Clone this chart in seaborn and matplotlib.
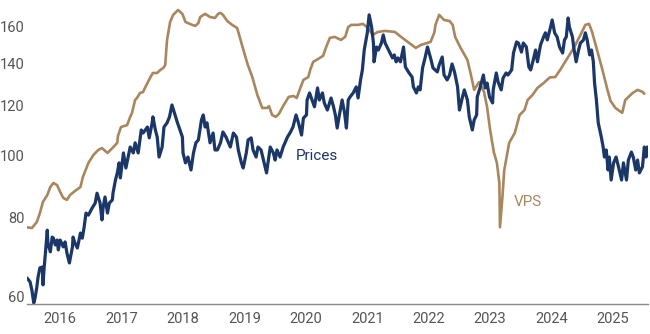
import matplotlib
matplotlib.use("Agg")
import matplotlib.pyplot as plt
from matplotlib.ticker import FixedLocator, NullLocator
import pandas as pd
import seaborn as sns

# Time axis in decimal years
prices_year = [
    2015.46, 2015.51, 2015.54, 2015.57, 2015.59, 2015.62, 2015.64, 2015.67, 2015.71, 2015.72,
    2015.74, 2015.76, 2015.79, 2015.80, 2015.84, 2015.87, 2015.89, 2015.92, 2015.95, 2015.97,
    2016.00, 2016.05, 2016.08, 2016.11, 2016.15, 2016.20, 2016.21, 2016.24, 2016.28, 2016.33,
    2016.36, 2016.39, 2016.42, 2016.46, 2016.52, 2016.57, 2016.60, 2016.65, 2016.68, 2016.70,
    2016.73, 2016.77, 2016.80, 2016.85, 2016.86, 2016.90, 2016.93, 2016.96, 2016.98, 2017.03,
    2017.07, 2017.14, 2017.19, 2017.22, 2017.27, 2017.32, 2017.35, 2017.42, 2017.45, 2017.50,
    2017.51, 2017.55, 2017.58, 2017.61, 2017.66, 2017.69, 2017.74, 2017.78, 2017.82, 2017.86,
    2017.91, 2017.94, 2017.99, 2018.00, 2018.04, 2018.08, 2018.13, 2018.17, 2018.21, 2018.25,
    2018.30, 2018.33, 2018.36, 2018.39, 2018.44, 2018.49, 2018.52, 2018.56, 2018.61, 2018.65,
    2018.70, 2018.77, 2018.82, 2018.87, 2018.90, 2018.95, 2018.98, 2019.03, 2019.06, 2019.11,
    2019.14, 2019.19, 2019.22, 2019.27, 2019.31, 2019.36, 2019.39, 2019.42, 2019.47, 2019.50,
    2019.53, 2019.58, 2019.63, 2019.70, 2019.75, 2019.79, 2019.84, 2019.88, 2019.93, 2019.96,
    2020.01, 2020.02, 2020.06, 2020.10, 2020.14, 2020.19, 2020.22, 2020.27, 2020.30, 2020.35,
    2020.41, 2020.45, 2020.48, 2020.51, 2020.54, 2020.59, 2020.63, 2020.66, 2020.69, 2020.72,
    2020.77, 2020.82, 2020.85, 2020.89, 2020.92, 2020.95, 2021.00, 2021.03, 2021.07, 2021.10,
    2021.11, 2021.15, 2021.18, 2021.23, 2021.26, 2021.29, 2021.33, 2021.37, 2021.41, 2021.44,
    2021.47, 2021.50, 2021.54, 2021.59, 2021.62, 2021.65, 2021.68, 2021.73, 2021.75, 2021.80,
    2021.83, 2021.86, 2021.90, 2021.94, 2021.98, 2022.03, 2022.07, 2022.14, 2022.17, 2022.22,
    2022.25, 2022.30, 2022.34, 2022.38, 2022.42, 2022.47, 2022.50, 2022.55, 2022.58, 2022.63,
    2022.66, 2022.71, 2022.74, 2022.78, 2022.79, 2022.84, 2022.89, 2022.92, 2022.95, 2022.99,
    2023.04, 2023.05, 2023.10, 2023.13, 2023.18, 2023.21, 2023.26, 2023.29, 2023.35, 2023.38,
    2023.43, 2023.46, 2023.51, 2023.54, 2023.59, 2023.63, 2023.66, 2023.71, 2023.74, 2023.77,
    2023.82, 2023.87, 2023.90, 2023.93, 2023.98, 2024.01, 2024.05, 2024.09, 2024.13, 2024.18,
    2024.21, 2024.24, 2024.27, 2024.29, 2024.34, 2024.36, 2024.40, 2024.44, 2024.47, 2024.52,
    2024.55, 2024.58, 2024.62, 2024.65, 2024.68, 2024.70, 2024.73, 2024.76, 2024.81, 2024.84,
    2024.86, 2024.89, 2024.92, 2024.94, 2024.97, 2025.01, 2025.05, 2025.09, 2025.14, 2025.17,
    2025.22, 2025.25, 2025.30, 2025.33, 2025.37, 2025.40, 2025.43, 2025.48, 2025.51, 2025.54,
    2025.56,
]
prices_value = [
    64.1, 63.2, 61.3, 58.5, 59.5, 62.0, 64.3, 66.5, 66.7, 62.5,
    66.7, 70.2, 76.3, 72.8, 70.5, 74.4, 74.1, 72.3, 73.6, 71.0,
    73.6, 71.8, 73.1, 70.2, 67.7, 71.8, 74.4, 72.8, 71.5, 75.5,
    74.1, 77.1, 81.2, 80.6, 82.7, 84.2, 87.3, 84.2, 79.2, 83.0,
    86.1, 81.2, 84.2, 85.2, 87.3, 91.6, 94.0, 97.5, 92.3, 101.1,
    95.7, 103.3, 101.1, 104.9, 101.1, 109.9, 108.7, 111.1, 106.8, 113.2,
    115.3, 109.9, 107.1, 99.6, 103.3, 111.1, 112.8, 115.3, 120.4, 116.9,
    112.8, 110.7, 107.1, 101.1, 97.5, 99.6, 95.0, 101.1, 104.9, 106.0,
    114.0, 116.1, 111.1, 112.8, 104.9, 108.7, 102.2, 102.2, 104.9, 109.1,
    107.1, 103.3, 108.7, 107.1, 102.2, 97.5, 95.7, 101.1, 106.0, 106.8,
    102.2, 99.6, 103.3, 102.2, 98.5, 94.0, 98.5, 103.3, 101.1, 98.5,
    102.2, 99.6, 103.3, 107.1, 109.1, 111.1, 116.1, 112.8, 107.9, 114.8,
    116.1, 122.6, 125.8, 122.6, 119.6, 128.1, 122.6, 125.8, 121.3, 118.2,
    123.5, 119.6, 116.1, 110.7, 115.3, 122.6, 117.0, 110.7, 122.6, 124.0,
    125.8, 128.6, 123.5, 131.9, 136.8, 147.1, 156.6, 167.2, 160.0, 150.9,
    140.9, 148.7, 147.1, 150.9, 155.4, 150.9, 148.2, 145.5, 142.9, 144.5,
    140.9, 142.9, 140.9, 148.7, 138.3, 136.8, 135.3, 133.3, 128.6, 125.8,
    128.6, 127.2, 137.8, 142.9, 148.7, 142.9, 137.8, 135.8, 139.3, 143.4,
    134.3, 131.9, 134.3, 139.8, 135.8, 128.6, 118.2, 124.0, 127.2, 122.6,
    115.3, 109.9, 114.0, 116.1, 124.0, 128.6, 134.3, 128.1, 130.4, 124.0,
    121.3, 127.2, 135.3, 130.9, 127.2, 132.8, 135.3, 134.3, 136.8, 145.5,
    151.5, 150.9, 146.0, 150.9, 148.7, 138.3, 136.8, 142.9, 147.1, 140.9,
    149.8, 154.3, 156.6, 152.6, 159.4, 164.1, 156.6, 154.3, 148.7, 145.5,
    152.6, 154.3, 165.3, 160.0, 154.3, 148.7, 140.9, 147.1, 150.9, 152.6,
    156.6, 152.6, 144.5, 147.1, 140.9, 130.4, 122.6, 112.8, 107.1, 103.3,
    99.6, 102.2, 95.0, 99.6, 91.6, 97.5, 99.6, 96.1, 91.6, 97.5,
    91.6, 98.5, 101.4, 99.6, 95.0, 98.5, 94.0, 96.1, 103.3, 99.6,
    103.3,
]

vps_year = [
    2015.46, 2015.54, 2015.62, 2015.67, 2015.72, 2015.79, 2015.84, 2015.89, 2015.95, 2016.00,
    2016.05, 2016.11, 2016.16, 2016.24, 2016.33, 2016.37, 2016.46, 2016.54, 2016.62, 2016.68,
    2016.77, 2016.85, 2016.93, 2016.94, 2016.99, 2017.09, 2017.14, 2017.17, 2017.22, 2017.25,
    2017.30, 2017.35, 2017.38, 2017.47, 2017.51, 2017.58, 2017.63, 2017.68, 2017.71, 2017.74,
    2017.79, 2017.84, 2017.92, 2017.99, 2018.04, 2018.15, 2018.20, 2018.25, 2018.28, 2018.36,
    2018.44, 2018.52, 2018.57, 2018.61, 2018.65, 2018.72, 2018.80, 2018.88, 2018.90, 2018.96,
    2019.05, 2019.13, 2019.21, 2019.29, 2019.37, 2019.40, 2019.45, 2019.51, 2019.56, 2019.64,
    2019.72, 2019.80, 2019.85, 2019.91, 2019.96, 2020.04, 2020.07, 2020.12, 2020.20, 2020.28,
    2020.33, 2020.39, 2020.47, 2020.57, 2020.64, 2020.69, 2020.74, 2020.85, 2020.93, 2021.01,
    2021.09, 2021.17, 2021.29, 2021.45, 2021.55, 2021.66, 2021.79, 2021.87, 2021.98, 2022.03,
    2022.09, 2022.11, 2022.17, 2022.25, 2022.34, 2022.39, 2022.43, 2022.52, 2022.63, 2022.68,
    2022.74, 2022.82, 2022.90, 2022.95, 2023.00, 2023.06, 2023.11, 2023.15, 2023.16, 2023.20,
    2023.23, 2023.31, 2023.40, 2023.48, 2023.56, 2023.61, 2023.69, 2023.77, 2023.87, 2023.97,
    2024.06, 2024.14, 2024.26, 2024.37, 2024.47, 2024.55, 2024.61, 2024.66, 2024.74, 2024.82,
    2024.91, 2024.96, 2025.04, 2025.15, 2025.20, 2025.32, 2025.40, 2025.48, 2025.51,
]
vps_value = [
    77.1, 76.9, 78.6, 81.2, 84.6, 86.7, 89.3, 90.6, 89.9, 87.7,
    85.8, 85.2, 86.7, 88.0, 89.3, 92.6, 97.5, 100.3, 102.2, 102.9,
    101.1, 102.9, 104.9, 107.5, 111.1, 111.9, 115.3, 117.0, 122.6, 123.5,
    125.8, 126.2, 128.1, 133.3, 135.3, 135.3, 136.8, 137.8, 139.3, 152.6,
    162.9, 167.2, 170.2, 167.8, 162.9, 161.2, 160.6, 162.3, 165.9, 167.8,
    165.9, 165.3, 167.8, 168.4, 167.2, 163.5, 161.2, 159.4, 157.1, 149.8,
    139.8, 133.1, 124.9, 119.1, 119.1, 119.9, 116.1, 115.3, 116.5, 120.4,
    124.0, 124.4, 123.5, 128.1, 131.9, 133.3, 136.8, 140.9, 142.4, 144.0,
    148.7, 153.7, 154.3, 152.6, 154.3, 160.0, 161.2, 161.2, 161.8, 159.4,
    155.4, 157.1, 157.7, 157.1, 154.3, 151.5, 148.2, 149.8, 151.0, 151.5,
    156.6, 161.2, 167.2, 164.1, 163.5, 161.2, 154.3, 148.2, 141.9, 135.3,
    127.2, 130.9, 126.3, 119.5, 109.9, 101.4, 97.5, 90.6, 77.1, 86.1,
    95.0, 104.9, 108.7, 116.1, 118.2, 122.6, 124.9, 128.1, 130.4, 133.1,
    133.3, 136.8, 142.9, 148.7, 155.4, 161.2, 161.8, 157.1, 147.1, 137.8,
    127.2, 122.2, 119.1, 117.0, 122.6, 125.8, 127.2, 126.3, 125.4,
]

y_ticks = [60, 80, 100, 120, 140, 160]
x_ticks = [2016, 2017, 2018, 2019, 2020, 2021, 2022, 2023, 2024, 2025]

NAVY = "#1b3768"
TAN = "#a9865e"
GREY_TEXT = "#555555"

sns.set_theme(style="white")
plt.rcParams["font.family"] = ["Liberation Sans Narrow", "Roboto", "DejaVu Sans"]

prices_df = pd.DataFrame({"year": prices_year, "value": prices_value})
vps_df = pd.DataFrame({"year": vps_year, "value": vps_value})

fig = plt.figure(figsize=(6.5, 3.34), dpi=100)
ax = fig.add_axes([27 / 650, 30 / 334, 621 / 650, 304 / 334])

sns.lineplot(data=vps_df, x="year", y="value", ax=ax, color=TAN, linewidth=1.9,
             estimator=None, sort=False)
sns.lineplot(data=prices_df, x="year", y="value", ax=ax, color=NAVY, linewidth=2.3,
             estimator=None, sort=False)

ax.set_yscale("log")
ax.set_ylim(58.3, 176.5)
ax.set_xlim(2015.46, 2025.57)

ax.yaxis.set_major_locator(FixedLocator(y_ticks))
ax.yaxis.set_minor_locator(NullLocator())
ax.set_yticklabels([str(t) for t in y_ticks])
ax.xaxis.set_major_locator(FixedLocator(x_ticks))
ax.xaxis.set_minor_locator(NullLocator())
ax.set_xticklabels([str(t) for t in x_ticks])

ax.tick_params(axis="both", length=0, labelsize=10.5, labelcolor=GREY_TEXT)
ax.tick_params(axis="y", pad=2)
ax.tick_params(axis="x", pad=6)

for side in ("top", "right", "left"):
    ax.spines[side].set_visible(False)
ax.spines["bottom"].set_color("#8a8a8a")
ax.spines["bottom"].set_linewidth(1.0)

ax.set_xlabel("")
ax.set_ylabel("")
ax.grid(False)

ax.text(2019.83, 99.9, "Prices", color=NAVY, fontsize=11, va="center", ha="left",
        family=["Roboto", "DejaVu Sans"])
ax.text(2023.38, 84.4, "VPS", color=TAN, fontsize=11, va="center", ha="left",
        family=["Roboto", "DejaVu Sans"])

fig.savefig("out.png", dpi=100)
